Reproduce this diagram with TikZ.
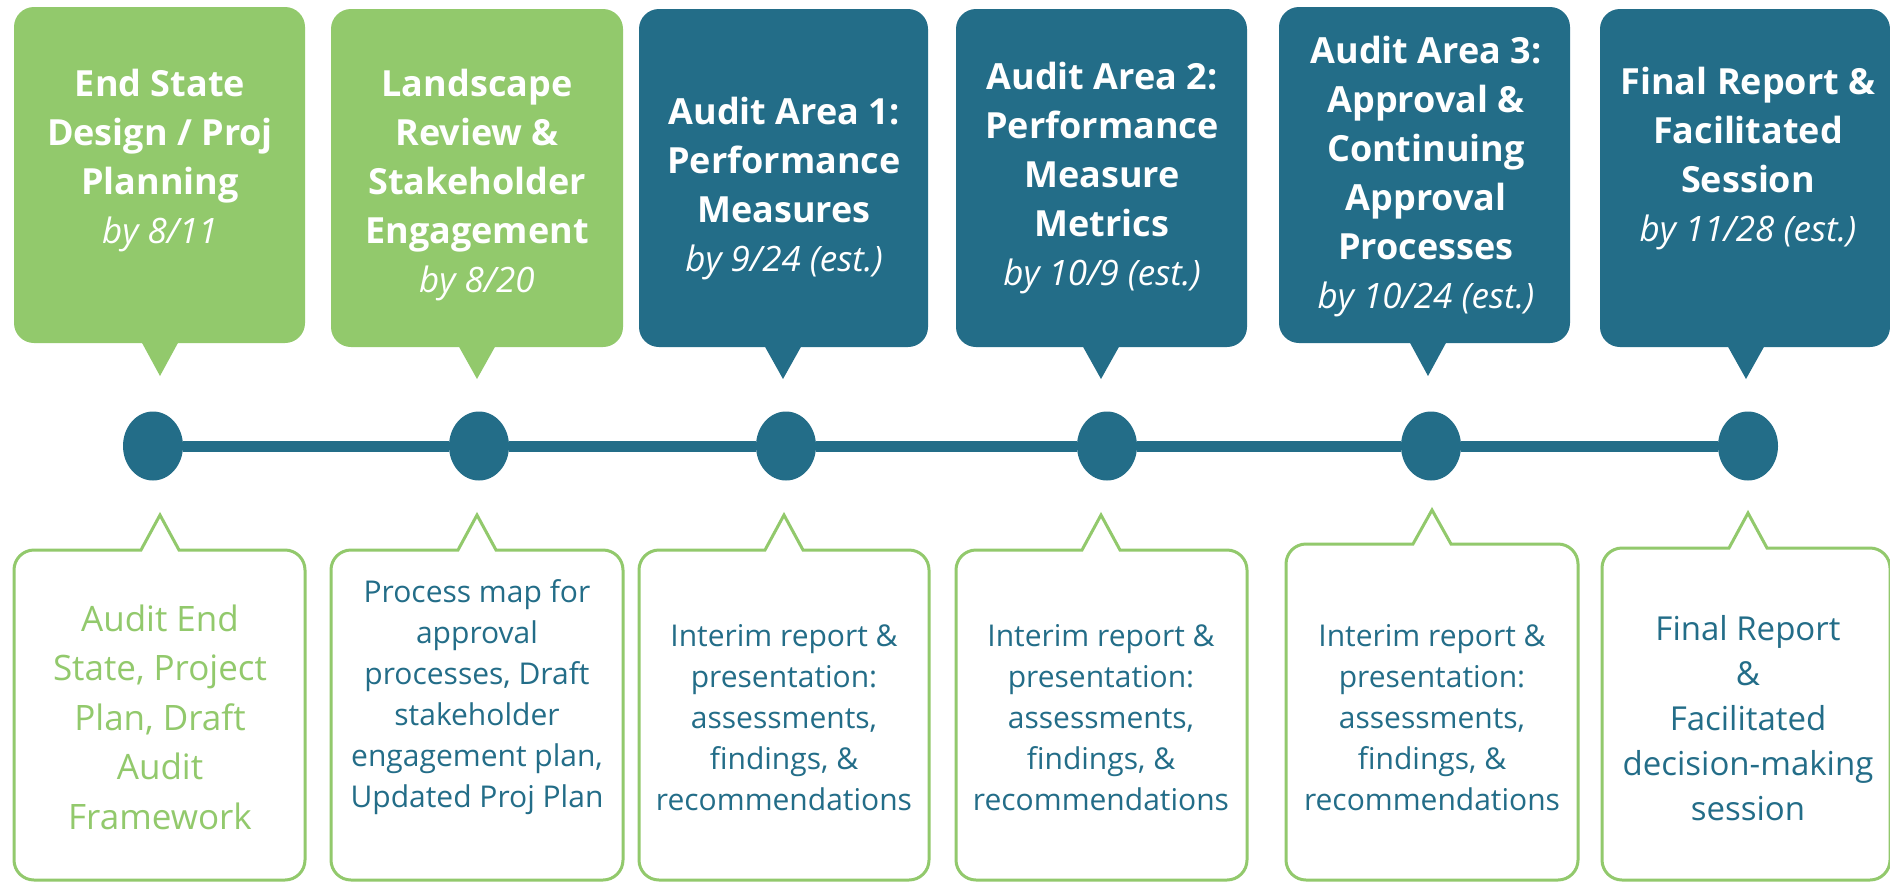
\documentclass[tikz,border=0pt]{standalone}
\usepackage{fontspec}
\setmainfont{Open Sans}
\usetikzlibrary{shapes.geometric}
\definecolor{tlgreen}{HTML}{92C96C}
\definecolor{tlteal}{HTML}{236D88}
\newcommand{\tlDate}[1]{{\mdseries\itshape\fontsize{35}{49}\selectfont #1}}
% filled callout: colour, L, R, T, B, tipX, tipY
\newcommand{\tlTop}[7]{%
  \fill[#1,rounded corners=20pt] (#2,#4) rectangle (#3,#5);
  \fill[#1] (#6-19,#5-2) -- (#6+19,#5-2) -- (#6,#7) -- cycle;}
% outlined callout: L, R, T, tipX, tipY (bottom fixed at 880)
\newcommand{\tlBot}[5]{%
  \draw[outbox] (#4-19,#3) -- (#1+20,#3) arc[start angle=270,end angle=180,radius=20]
   -- (#1,860) arc[start angle=180,end angle=90,radius=20]
   -- (#2-20,880) arc[start angle=90,end angle=0,radius=20]
   -- (#2,#3+20) arc[start angle=0,end angle=-90,radius=20]
   -- (#4+19,#3) -- (#4,#5) -- cycle;}
\begin{document}
\begin{tikzpicture}[x=1pt,y=-1pt,
  outbox/.style={draw=tlgreen,line width=3pt,line join=miter},
  ttl/.style={text=white,align=center,inner sep=0pt,font=\fontsize{36}{49}\selectfont\bfseries},
  body/.style={text=tlteal,align=center,inner sep=0pt,font=\fontsize{30}{41}\selectfont},
  dot/.style={ellipse,fill=tlteal,minimum width=60pt,minimum height=69pt,inner sep=0pt},
  timeline/.style={draw=tlteal,line width=11pt}]
\fill[white] (0,0) rectangle (1890,884);
\useasboundingbox (0,0) rectangle (1890,884);
% top callouts
\tlTop{tlgreen}{14}{305}{7}{343}{160}{376}
\tlTop{tlgreen}{331}{623}{9}{347}{477}{379}
\tlTop{tlteal}{639}{928}{9}{347}{783}{379}
\tlTop{tlteal}{956}{1247}{9}{347}{1101}{379}
\tlTop{tlteal}{1279}{1570}{7}{343}{1428}{376}
\tlTop{tlteal}{1600}{1890}{9}{347}{1746}{379}
\node[ttl] (t1) at (160,161) {End State\\Design / Proj\\Planning\\\tlDate{by 8/11}};
\node[ttl] (t2) at (477,185) {Landscape\\Review \&\\Stakeholder\\Engagement\\\tlDate{by 8/20}};
\node[ttl] (t3) at (784,189) {Audit Area 1:\\Performance\\Measures\\\tlDate{by 9/24 (est.)}};
\node[ttl] (t4) at (1102,178) {Audit Area 2:\\Performance\\Measure\\Metrics\\\tlDate{by 10/9 (est.)}};
\node[ttl] (t5) at (1426,177) {Audit Area 3:\\Approval \&\\Continuing\\Approval\\Processes\\\tlDate{by 10/24 (est.)}};
\node[ttl] (t6) at (1748,159) {Final Report \&\\Facilitated\\Session\\\tlDate{by 11/28 (est.)}};
% timeline
\node[dot] (c1) at (153,446) {};
\node[dot] (c2) at (479,446) {};
\node[dot] (c3) at (786,446) {};
\node[dot] (c4) at (1107,446) {};
\node[dot] (c5) at (1431,446) {};
\node[dot] (c6) at (1748,446) {};
\draw[timeline] (c1) -- (c2);
\draw[timeline] (c2) -- (c3);
\draw[timeline] (c3) -- (c4);
\draw[timeline] (c4) -- (c5);
\draw[timeline] (c5) -- (c6);
% bottom callouts
\tlBot{14}{305}{550}{160}{515}
\tlBot{331}{623}{550}{477}{515}
\tlBot{639}{929}{550}{784}{515}
\tlBot{956}{1247}{550}{1101}{515}
\tlBot{1286}{1578}{544}{1432}{510}
\tlBot{1602}{1890}{548}{1748}{513}
\node[body,text=tlgreen,font=\fontsize{35}{49.5}\selectfont] (b1) at (160,717) {Audit End\\State, Project\\Plan, Draft\\Audit\\Framework};
\node[body] (b2) at (477,697) {Process map for\\approval\\processes, Draft\\stakeholder\\engagement plan,\\Updated Proj Plan};
\node[body] (b3) at (784,718) {Interim report \&\\presentation:\\assessments,\\findings, \&\\recommendations};
\node[body] (b4) at (1101,718) {Interim report \&\\presentation:\\assessments,\\findings, \&\\recommendations};
\node[body] (b5) at (1432,718) {Interim report \&\\presentation:\\assessments,\\findings, \&\\recommendations};
\node[body,font=\fontsize{33}{45}\selectfont] (b6) at (1748,718) {Final Report\\\&\\Facilitated\\decision-making\\session};
\end{tikzpicture}
\end{document}
